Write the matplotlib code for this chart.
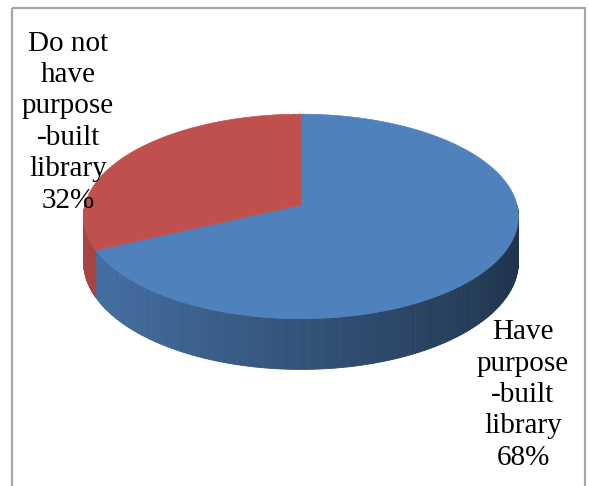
import numpy as np
import matplotlib.pyplot as plt
from matplotlib.patches import Polygon, Rectangle
from matplotlib.colors import to_rgb

labels = ["Have\npurpose\n-built\nlibrary\n68%", "Do not\nhave\npurpose\n-built\nlibrary\n32%"]
shares = [68, 32]
top_colors = ["#4f81bd", "#c0504d"]

# pie geometry in pixel units (y grows downwards), k = perspective strength
cx, cy, sx, sy, depth, k = 301, 205, 216, 101, 45, 0.112

fig = plt.figure(figsize=(5.89, 4.86), dpi=100)
ax = fig.add_axes([0, 0, 1, 1])
ax.set_xlim(0, 589)
ax.set_ylim(486, 0)
ax.axis("off")

ax.add_patch(Rectangle((12, 8.5), 573, 500, fill=False, ec="#a6a6a6", lw=1.6))

def edge(t, dz=0.0):
    # point on the rim, projected with a simple perspective (far side smaller)
    u, v = np.cos(t), np.sin(t)
    w = 1 + k * v
    return cx + sx * u / w, cy - sy * v / w + dz / w

# slices go clockwise from 12 o'clock, first slice first
fr = np.array(shares, float) / sum(shares)
ends = np.pi / 2 - 2 * np.pi * np.cumsum(fr)
starts = np.concatenate([[np.pi / 2], ends[:-1]])

def shade(color, t):
    # side gets darker towards the right
    f = 0.88 - 0.48 * (np.cos(t) + 1) / 2
    return tuple(np.clip(np.array(to_rgb(color)) * f, 0, 1))

# sides (front half only)
for s, e, col in zip(starts, ends, top_colors):
    ts = np.linspace(min(s, e), max(s, e), 400)
    tm = np.mod(ts, 2 * np.pi)
    front = (tm > np.pi) & (tm < 2 * np.pi)
    for i in range(len(ts) - 1):
        if not (front[i] and front[i + 1]):
            continue
        t0, t1 = ts[i], ts[i + 1]
        x0, y0 = edge(t0)
        x1, y1 = edge(t1)
        _, b0 = edge(t0, depth)
        _, b1 = edge(t1, depth)
        c = shade(col, t0)
        ax.add_patch(Polygon([(x0, y0), (x1, y1), (x1, b1), (x0, b0)],
                             closed=True, fc=c, ec=c, lw=0.6))

# top faces
for s, e, col in zip(starts, ends, top_colors):
    ts = np.linspace(s, e, 300)
    xs, ys = edge(ts)
    pts = [(cx, cy)] + list(zip(xs, ys))
    ax.add_patch(Polygon(pts, closed=True, fc=col, ec=col, lw=0.5))

font = dict(family=["Liberation Serif", "DejaVu Serif"], fontsize=21,
            ha="center", va="center", linespacing=1.27, color="black")
ax.text(523, 395, labels[0], **font)
ax.text(68, 122, labels[1], **font)

fig.savefig("out.png", dpi=100)
